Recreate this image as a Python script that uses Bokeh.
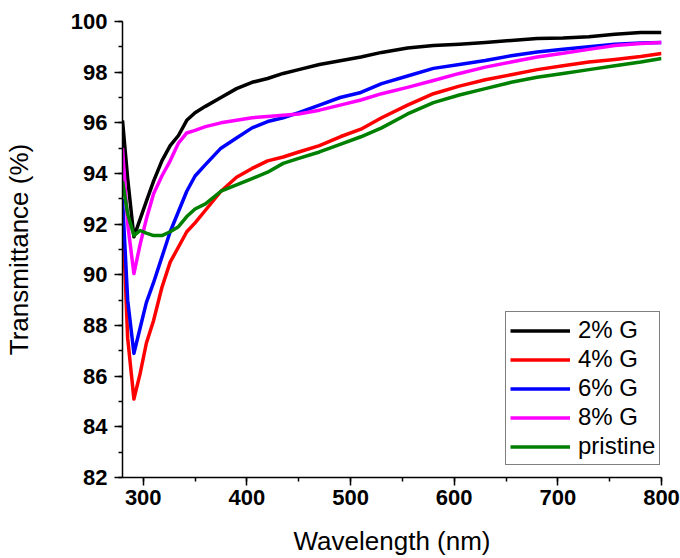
from bokeh.plotting import figure
from bokeh.models import Range1d, SingleIntervalTicker, Legend, LegendItem
from bokeh.embed import file_html
from bokeh.resources import INLINE

# Wavelength grid (nm)
wavelength = [280, 285, 291, 297, 303, 310, 318, 326, 334, 342, 350, 360, 375, 390,
              405, 420, 435, 450, 470, 490, 510, 530, 555, 580, 605, 630, 655, 680,
              705, 730, 755, 780, 800]

# Transmittance (%)
t_2G = [96.1, 93.8, 91.5, 92.2, 92.9, 93.7, 94.5, 95.1, 95.5, 96.1, 96.4, 96.65, 97.0, 97.35,
        97.6, 97.75, 97.95, 98.1, 98.3, 98.45, 98.6, 98.78, 98.95, 99.05, 99.1, 99.17, 99.25, 99.33,
        99.35, 99.4, 99.5, 99.57, 99.57]
t_4G = [92.5, 87.5, 85.1, 86.1, 87.3, 88.2, 89.5, 90.5, 91.1, 91.7, 92.05, 92.55, 93.3, 93.85,
        94.2, 94.5, 94.65, 94.85, 95.1, 95.45, 95.75, 96.2, 96.7, 97.15, 97.45, 97.7, 97.9, 98.1,
        98.25, 98.4, 98.5, 98.62, 98.74]
t_6G = [93.0, 89.0, 86.9, 87.9, 88.9, 89.7, 90.7, 91.7, 92.5, 93.3, 93.9, 94.35, 95.0, 95.4,
        95.8, 96.05, 96.2, 96.4, 96.7, 97.0, 97.2, 97.55, 97.85, 98.15, 98.3, 98.46, 98.65, 98.8,
        98.9, 99.0, 99.1, 99.15, 99.17]
t_8G = [95.0, 92.0, 90.05, 91.2, 92.2, 93.2, 93.9, 94.5, 95.2, 95.6, 95.7, 95.85, 96.0, 96.1,
        96.2, 96.25, 96.3, 96.35, 96.5, 96.7, 96.9, 97.15, 97.4, 97.67, 97.95, 98.2, 98.4, 98.6,
        98.75, 98.9, 99.05, 99.13, 99.17]
t_pristine = [93.7, 92.4, 91.55, 91.75, 91.65, 91.55, 91.55, 91.7, 91.9, 92.3, 92.6, 92.8, 93.3, 93.55,
              93.8, 94.05, 94.4, 94.6, 94.85, 95.15, 95.45, 95.8, 96.35, 96.8, 97.1, 97.35, 97.6, 97.8,
              97.95, 98.1, 98.25, 98.4, 98.54]

series_names = ["2% G", "4% G", "6% G", "8% G", "pristine"]
series_values = [t_2G, t_4G, t_6G, t_8G, t_pristine]
series_colors = ["#000000", "#ff0000", "#0000ff", "#ff00ff", "#008000"]

x_ticks_interval = 100
y_ticks_interval = 2

FONT = "Liberation Sans"

p = figure(width=680, height=558, output_backend="svg", toolbar_location=None,
           x_range=Range1d(280, 800), y_range=Range1d(82, 100),
           min_border_left=118, min_border_right=19, min_border_top=21, min_border_bottom=81)
p.outline_line_color = None
p.xgrid.visible = False
p.ygrid.visible = False
p.background_fill_color = "white"
p.border_fill_color = "white"

renderers = []
for name, vals, col in zip(series_names, series_values, series_colors):
    r = p.line(wavelength, vals, line_color=col, line_width=3.5, line_join="round")
    renderers.append((name, r))

p.xaxis.ticker = SingleIntervalTicker(interval=x_ticks_interval, num_minor_ticks=2)
p.yaxis.ticker = SingleIntervalTicker(interval=y_ticks_interval, num_minor_ticks=2)

for ax in (p.xaxis[0], p.yaxis[0]):
    ax.axis_line_width = 1.5
    ax.axis_line_color = "black"
    ax.major_tick_line_width = 1.5
    ax.minor_tick_line_width = 1.5
    ax.major_tick_line_color = "black"
    ax.minor_tick_line_color = "black"
    ax.major_tick_out = 8
    ax.major_tick_in = 0
    ax.minor_tick_out = 4
    ax.minor_tick_in = 0
    ax.major_label_text_font = FONT
    ax.major_label_text_font_style = "bold"
    ax.major_label_text_font_size = "22px"
    ax.major_label_text_color = "black"
    ax.axis_label_text_font = FONT
    ax.axis_label_text_font_style = "normal"
    ax.axis_label_text_font_size = "26px"
    ax.axis_label_text_color = "black"

p.xaxis.axis_label = "Wavelength (nm)"
p.yaxis.axis_label = "Transmittance (%)"
p.xaxis.major_label_standoff = 4
p.xaxis.axis_label_standoff = 18
p.yaxis.major_label_standoff = 7
p.yaxis.axis_label_standoff = 34

legend = Legend(items=[LegendItem(label=n, renderers=[r]) for n, r in renderers],
                location=(383, 12))
legend.label_text_font = FONT
legend.label_text_font_size = "24px"
legend.label_text_color = "black"
legend.border_line_color = "black"
legend.border_line_width = 1
legend.background_fill_color = "white"
legend.background_fill_alpha = 1
legend.padding = 4
legend.spacing = 1
legend.margin = 0
legend.label_height = 25
legend.glyph_height = 25
legend.glyph_width = 60
legend.label_standoff = 8
p.add_layout(legend, "center")

open("out.html", "w").write(file_html(p, INLINE))
